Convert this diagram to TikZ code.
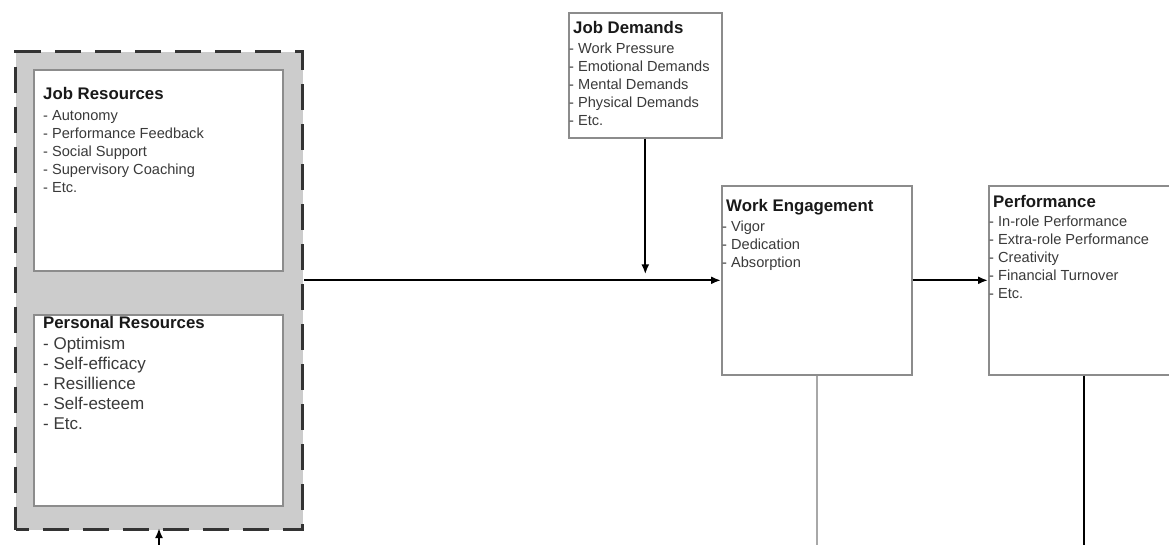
\documentclass[tikz,border=0pt]{standalone}
\usepackage{fontspec}
\setmainfont{Liberation Sans}
\usetikzlibrary{arrows.meta}
\definecolor{boxgray}{HTML}{8C8C8C}
\definecolor{dashgray}{HTML}{333333}
\definecolor{panel}{HTML}{CCCCCC}
\definecolor{itemgray}{HTML}{3A3A3A}
\definecolor{lightline}{HTML}{A8A8A8}
\newcommand\boxtitle[1]{{\bfseries\color{black!90}\fontsize{16.8}{18}\selectfont #1}}

\begin{document}
\begin{tikzpicture}[x=1pt,y=-1pt,
  box/.style={draw=boxgray,line width=1.6pt,fill=white,anchor=north west,inner sep=0pt},
  txt/.style={anchor=north west,inner sep=0pt,align=left,text=itemgray,
    font=\fontsize{14.6}{18}\selectfont},
  link/.style={line width=2pt,-{Latex[length=10pt,width=8pt]}}]
\useasboundingbox (0,0) rectangle (1169,544);
\clip (0,0) rectangle (1169,544);
\coordinate (low) at (0,560);
% resources panel
\node[box,draw=dashgray,fill=panel,line width=3pt,dash pattern=on 26pt off 14pt,dash phase=13pt,
  minimum width=287pt,minimum height=478pt] (res) at (14,50) {};
\node[box,minimum width=249pt,minimum height=201pt] (jr) at (33,69) {};
\node[txt] (jr-txt) at (43,87) {\boxtitle{Job Resources}\\[3pt]- Autonomy\\- Performance Feedback\\- Social Support\\- Supervisory Coaching\\- Etc.};
\node[box,minimum width=249pt,minimum height=191pt] (pr) at (33,314) {};
\node[txt,font=\fontsize{17}{20}\selectfont] (pr-txt) at (43,316) {\boxtitle{Personal Resources}\\[1pt]- Optimism\\- Self-efficacy\\- Resillience\\- Self-esteem\\- Etc.};
% demands, engagement, performance
\node[box,minimum width=153pt,minimum height=125pt] (jd) at (568,12) {};
\node[txt] (jd-txt) at (569,21) {\kern4pt\boxtitle{Job Demands}\\[2pt]- Work Pressure\\- Emotional Demands\\- Mental Demands\\- Physical Demands\\- Etc.};
\node[box,minimum width=190pt,minimum height=189pt] (we) at (721,185) {};
\node[txt] (we-txt) at (722,199) {\kern4pt\boxtitle{Work Engagement}\\[2pt]- Vigor\\- Dedication\\- Absorption};
\node[box,minimum width=190pt,minimum height=189pt] (perf) at (988,185) {};
\node[txt] (perf-txt) at (989,195) {\kern4pt\boxtitle{Performance}\\[1pt]- In-role Performance\\- Extra-role Performance\\- Creativity\\- Financial Turnover\\- Etc.};
% connectors
\coordinate[yshift=6pt] (mod) at (jd.south |- we.west);
\draw[link] (res.east |- we.west) -- (we.west);
\draw[link] (jd.south) -- (mod);
\draw[link] (we.east) -- (perf.west);
\draw[line width=1.8pt,lightline] (we.south) -- (we.south |- low);
\draw[line width=2pt] (perf.south) -- (perf.south |- low);
\draw[link,shorten >=-3pt] (res.south |- low) -- (res.south);
\end{tikzpicture}
\end{document}
